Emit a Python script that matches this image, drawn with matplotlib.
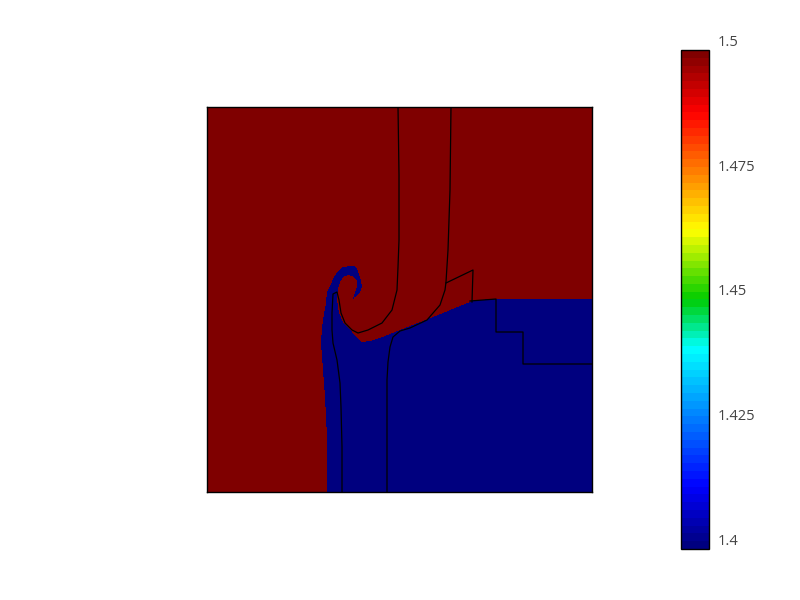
import numpy as np
import matplotlib.pyplot as plt
from matplotlib.path import Path
from matplotlib.colors import LinearSegmentedColormap

plt.rcParams['font.family'] = ['Open Sans', 'DejaVu Sans']

# mesh: 385 x 385 cells on the unit square
ncell = 385
rho_heavy = 1.5
rho_light = 1.4

# outline of the light (1.4) fluid, in cell units
light_x = [120, 120, 118, 116, 114, 115, 117, 119, 120, 123, 126, 130, 136, 143,
           148, 150, 153, 155, 153, 150, 146, 148, 150, 150, 146, 141, 136, 133,
           131, 130, 132, 136, 141, 148, 155, 163, 178, 193, 226, 263, 266, 290,
           385, 385]
light_y = [0, 55, 95, 122, 149, 165, 179, 189, 199, 205, 212, 219, 224, 225,
           225, 222, 214, 205, 199, 195, 193, 199, 204, 210, 215, 216, 214, 209,
           202, 192, 179, 170, 164, 157, 150, 151, 156, 162, 175, 190, 192, 193,
           193, 0]

# mesh block boundaries, in cell units
line1_x = [191, 192, 192, 191, 190, 185, 175, 161, 151, 145, 138, 134, 132, 130,
           126, 125, 125, 126, 130, 133, 134, 135, 135]
line1_y = [385, 317, 252, 225, 202, 182, 169, 162, 159, 162, 169, 179, 192, 200,
           198, 179, 162, 149, 132, 109, 85, 45, 0]
line2_x = [244, 243, 241, 239, 238, 233, 220, 203, 193, 186, 183, 181, 180, 180]
line2_y = [385, 302, 242, 210, 202, 187, 172, 164, 161, 155, 145, 130, 112, 0]
line3_x = [239, 266, 265]
line3_y = [209, 222, 190]
line4_x = [263, 289, 289, 316, 316, 385]
line4_y = [191, 193, 160, 160, 128, 128]
block_lines = [(line1_x, line1_y), (line2_x, line2_y),
               (line3_x, line3_y), (line4_x, line4_y)]

cb_ticks = [1.4, 1.425, 1.45, 1.475, 1.5]

# field
c = (np.arange(ncell) + 0.5) / ncell
X, Y = np.meshgrid(c, c)
poly = Path(np.column_stack([np.array(light_x) / ncell, np.array(light_y) / ncell]))
inside = poly.contains_points(np.column_stack([X.ravel(), Y.ravel()])).reshape(X.shape)
rho = np.where(inside, rho_light, rho_heavy)

cmap = LinearSegmentedColormap.from_list('vjet', [
    (0.0, (0, 0, 0.5)),
    (0.12, (0, 0, 1)),
    (0.40, (0, 1, 1)),
    (0.5, (0, 0.8, 0)),
    (0.64, (1, 1, 0)),
    (0.88, (1, 0, 0)),
    (1.0, (0.5, 0, 0))], N=64)

fig = plt.figure(figsize=(8, 6), dpi=100)
ax = fig.add_axes([0.25875, 0.18, 0.48125, 0.64167])
im = ax.imshow(rho, origin='lower', extent=[0, 1, 0, 1], cmap=cmap,
               vmin=rho_light, vmax=rho_heavy, interpolation='nearest', aspect='auto')
for lx, ly in block_lines:
    ax.plot(np.array(lx) / ncell, np.array(ly) / ncell, color='black', lw=0.9)
ax.set_xlim(0, 1)
ax.set_ylim(0, 1)
ax.set_xticks([])
ax.set_yticks([])
for s in ax.spines.values():
    s.set_linewidth(1)
    s.set_color('black')

cax = fig.add_axes([0.85125, 0.085, 0.035, 0.83167])
cb = fig.colorbar(im, cax=cax, ticks=cb_ticks)
cb.ax.set_yticklabels([f'{t:g}' for t in cb_ticks])
cb.ax.tick_params(length=0, pad=6.5, labelsize=10.5, labelcolor='#444444')
for lab in cb.ax.get_yticklabels():
    lab.set_verticalalignment('bottom')
cb.outline.set_linewidth(1)

fig.savefig('out.png', dpi=100)
